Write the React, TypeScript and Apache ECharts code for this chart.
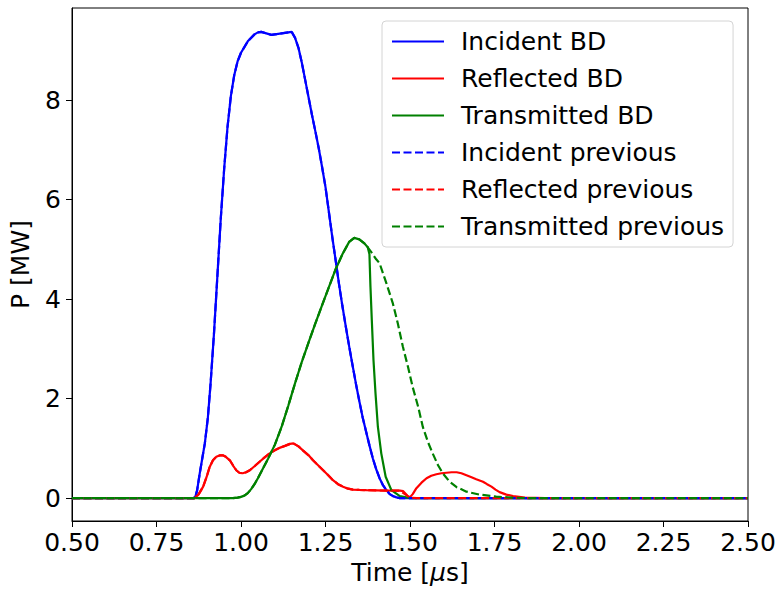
import React, { useEffect, useRef } from 'react';
import * as echarts from 'echarts';

const FONT = 'DejaVu Sans';

const seriesNames = [
  'Incident BD',
  'Reflected BD',
  'Transmitted BD',
  'Incident previous',
  'Reflected previous',
  'Transmitted previous',
];

const xTicks = [0.5, 0.75, 1.0, 1.25, 1.5, 1.75, 2.0, 2.25, 2.5];
const yTicks = [0, 2, 4, 6, 8];

// [time (µs), power (MW)]
const incidentBD = [
  [0.5, 0], [0.86, 0], [0.865, 0.03], [0.87, 0.15], [0.878, 0.5], [0.885, 0.78], [0.893, 1.1],
  [0.902, 1.62], [0.91, 2.3], [0.92, 3.3], [0.93, 4.45], [0.94, 5.6], [0.95, 6.6], [0.96, 7.45],
  [0.97, 8.08], [0.98, 8.5], [0.99, 8.78], [1.0, 8.95], [1.02, 9.18], [1.04, 9.32], [1.05, 9.36],
  [1.06, 9.37], [1.08, 9.33], [1.09, 9.31], [1.1, 9.32], [1.12, 9.34], [1.14, 9.36], [1.15, 9.37],
  [1.16, 9.25], [1.17, 9.05], [1.18, 8.75], [1.19, 8.4], [1.2, 8.05], [1.21, 7.7], [1.22, 7.37],
  [1.23, 7.03], [1.24, 6.65], [1.25, 6.25], [1.26, 5.75], [1.27, 5.25], [1.28, 4.78], [1.29, 4.3],
  [1.3, 3.86], [1.31, 3.45], [1.32, 3.05], [1.33, 2.67], [1.34, 2.3], [1.35, 1.95], [1.36, 1.62],
  [1.37, 1.34], [1.38, 1.06], [1.39, 0.8], [1.4, 0.58], [1.41, 0.4], [1.42, 0.26], [1.43, 0.16],
  [1.44, 0.08], [1.45, 0.04], [1.46, 0.015], [1.47, 0], [2.5, 0],
];

const reflectedBD = [
  [0.5, 0], [0.863, 0], [0.875, 0.08], [0.888, 0.23], [0.898, 0.42], [0.907, 0.62], [0.917, 0.76],
  [0.927, 0.83], [0.938, 0.86], [0.946, 0.86], [0.955, 0.83], [0.967, 0.76], [0.977, 0.65],
  [0.986, 0.56], [0.995, 0.51], [1.005, 0.5], [1.015, 0.52], [1.026, 0.56], [1.04, 0.64],
  [1.055, 0.73], [1.07, 0.82], [1.085, 0.9], [1.1, 0.96], [1.114, 1.01], [1.13, 1.05],
  [1.145, 1.09], [1.155, 1.1], [1.17, 1.04], [1.183, 0.96], [1.2, 0.86], [1.213, 0.76],
  [1.228, 0.66], [1.243, 0.56], [1.258, 0.46], [1.272, 0.36], [1.287, 0.28], [1.302, 0.23],
  [1.317, 0.19], [1.331, 0.17], [1.35, 0.165], [1.371, 0.16], [1.4, 0.155], [1.43, 0.15],
  [1.47, 0.15], [1.48, 0.14], [1.487, 0.09], [1.495, 0.03], [1.5, 0.02], [1.508, 0.08],
  [1.519, 0.2], [1.534, 0.31], [1.549, 0.4], [1.563, 0.45], [1.578, 0.48], [1.593, 0.5],
  [1.608, 0.51], [1.623, 0.52], [1.638, 0.52], [1.652, 0.5], [1.667, 0.46], [1.682, 0.42],
  [1.696, 0.38], [1.716, 0.33], [1.728, 0.28], [1.741, 0.23], [1.753, 0.17], [1.765, 0.12],
  [1.785, 0.07], [1.805, 0.04], [1.84, 0.01], [1.9, 0], [2.5, 0],
];

const transmittedBD = [
  [0.5, 0], [0.975, 0], [0.99, 0.01], [1.0, 0.025], [1.01, 0.05], [1.02, 0.1], [1.03, 0.18],
  [1.04, 0.28], [1.05, 0.4], [1.06, 0.53], [1.08, 0.79], [1.1, 1.07], [1.12, 1.43], [1.14, 1.86],
  [1.16, 2.31], [1.18, 2.74], [1.2, 3.13], [1.22, 3.51], [1.24, 3.88], [1.26, 4.24], [1.28, 4.6],
  [1.3, 4.9], [1.32, 5.15], [1.335, 5.23], [1.35, 5.2], [1.365, 5.12], [1.375, 5.04], [1.38, 4.9],
  [1.383, 4.25], [1.387, 3.58], [1.392, 2.77], [1.398, 2.1], [1.405, 1.43], [1.415, 0.9],
  [1.428, 0.43], [1.445, 0.16], [1.47, 0.04], [1.5, 0], [2.5, 0],
];

const incidentPrevious = incidentBD;

const reflectedPreviousTail = [
  [1.485, 0.08], [1.5, 0.01], [1.52, 0], [2.5, 0],
];

const transmittedPreviousTail = [
  [1.386, 4.94], [1.4, 4.8], [1.41, 4.72], [1.43, 4.32], [1.449, 3.92], [1.464, 3.51],
  [1.479, 3.04], [1.494, 2.64], [1.508, 2.23], [1.524, 1.84], [1.538, 1.43], [1.553, 1.13],
  [1.567, 0.9], [1.583, 0.66], [1.597, 0.5], [1.617, 0.33], [1.638, 0.22], [1.667, 0.13],
  [1.706, 0.07], [1.755, 0.03], [1.8, 0.01], [1.85, 0], [2.5, 0],
];

const reflectedPrevious = [
  ...reflectedBD.filter((p) => p[0] <= 1.47),
  ...reflectedPreviousTail,
];

const transmittedPrevious = [
  ...transmittedBD.filter((p) => p[0] <= 1.375),
  ...transmittedPreviousTail,
];

const seriesData = [
  incidentBD,
  reflectedBD,
  transmittedBD,
  incidentPrevious,
  reflectedPrevious,
  transmittedPrevious,
];

const seriesColors = ['#0000ff', '#ff0000', '#008000', '#0000ff', '#ff0000', '#008000'];
const seriesDashed = [false, false, false, true, true, true];

export default function App() {
  const ref = useRef<HTMLDivElement>(null);

  useEffect(() => {
    if (!ref.current) return;
    const chart = echarts.init(ref.current, null, { renderer: 'svg' });
    const textBase = { fontFamily: FONT, fontSize: 25, color: '#000' };

    chart.setOption({
      animation: false,
      backgroundColor: '#fff',
      grid: {
        left: 72,
        right: 31,
        top: 8,
        bottom: 68,
        show: true,
        borderColor: '#000',
        borderWidth: 1,
        backgroundColor: 'transparent',
        containLabel: false,
        outerBoundsMode: 'none',
      },
      legend: {
        show: true,
        orient: 'vertical',
        left: 382,
        top: 21,
        padding: [8, 9, 8, 9],
        itemGap: 12,
        itemWidth: 52,
        itemHeight: 14,
        selectedMode: false,
        backgroundColor: 'rgba(255,255,255,0.8)',
        borderColor: '#d4d4d4',
        borderWidth: 1,
        borderRadius: 4,
        itemStyle: { opacity: 0 },
        textStyle: { ...textBase, lineHeight: 25, padding: [0, 0, 0, 12] },
        data: seriesNames,
      },
      xAxis: {
        type: 'value',
        min: xTicks[0],
        max: xTicks[xTicks.length - 1],
        interval: 0.25,
        name: 'Time [{mu|μ}s]',
        nameLocation: 'middle',
        nameGap: 39,
        nameTextStyle: {
          ...textBase,
          rich: { mu: { ...textBase, fontStyle: 'italic' } },
        },
        axisLine: { show: true, onZero: false, lineStyle: { color: '#000', width: 1 } },
        axisTick: { show: true, inside: false, length: 6, lineStyle: { color: '#000', width: 1 } },
        axisLabel: {
          ...textBase,
          margin: 9,
          showMinLabel: true,
          showMaxLabel: true,
          formatter: (v: number) => v.toFixed(2),
        },
        splitLine: { show: false },
      },
      yAxis: {
        type: 'value',
        min: -0.46,
        max: 9.85,
        name: 'P [MW]',
        nameLocation: 'middle',
        nameGap: 39,
        nameTextStyle: { ...textBase },
        axisLine: { show: true, onZero: false, lineStyle: { color: '#000', width: 1 } },
        axisTick: {
          show: true,
          inside: false,
          length: 6,
          customValues: yTicks,
          lineStyle: { color: '#000', width: 1 },
        },
        axisLabel: {
          ...textBase,
          margin: 11,
          customValues: yTicks,
          formatter: (v: number) => String(v),
        },
        splitLine: { show: false },
      },
      series: seriesNames.map((name, i) => ({
        name,
        type: 'line',
        data: seriesData[i],
        symbol: 'none',
        showSymbol: false,
        smooth: false,
        clip: true,
        itemStyle: { color: seriesColors[i] },
        lineStyle: {
          color: seriesColors[i],
          width: 2.2,
          type: seriesDashed[i] ? [8, 3.5] : 'solid',
        },
        emphasis: { disabled: true },
        z: 2 + i,
      })),
    });

    return () => chart.dispose();
  }, []);

  return (
    <div
      ref={ref}
      style={{ position: 'fixed', left: 0, top: 0, width: 779, height: 589, background: '#fff' }}
    />
  );
}
